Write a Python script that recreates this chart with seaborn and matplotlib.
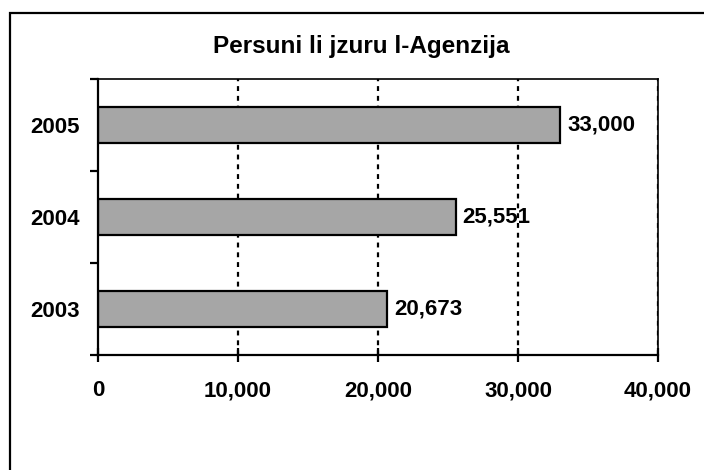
import pandas as pd
import matplotlib
matplotlib.use('Agg')
import matplotlib.pyplot as plt
import seaborn as sns
from matplotlib.patches import Rectangle
from matplotlib.ticker import FuncFormatter, FixedLocator

years = ['2005', '2004', '2003']
visitors = [33000, 25551, 20673]
x_ticks = [0, 10000, 20000, 30000, 40000]
title = 'Persuni li jzuru l-Agenzija'

sns.set_style('white')
plt.rcParams['font.family'] = ['Liberation Sans', 'DejaVu Sans']
plt.rcParams['font.weight'] = 'bold'
plt.rcParams['text.color'] = 'black'

df = pd.DataFrame({'year': years, 'visitors': visitors})

W, H = 704, 470
fig = plt.figure(figsize=(W / 100, H / 100), dpi=100)
ax = fig.add_axes([98 / W, 1 - 355 / H, (658 - 98) / W, (355 - 79) / H])

sns.barplot(data=df, x='visitors', y='year', order=years, orient='h',
            color='#a6a6a6', edgecolor='black', linewidth=1.6,
            width=0.39, saturation=1, ax=ax)

ax.set_xlim(0, 40000)
ax.set_ylim(2.5, -0.5)
ax.set_xticks(x_ticks)
ax.xaxis.set_major_formatter(FuncFormatter(lambda v, p: f'{v:,.0f}'))
ax.set_xlabel('')
ax.set_ylabel('')

# dotted gridlines
for v in x_ticks[1:]:
    ax.axvline(v, color='black', lw=1.6, ls=(0, (2.2, 2.2)), zorder=0)

for s in ['left', 'bottom']:
    ax.spines[s].set_linewidth(1.6)
for s in ['top', 'right']:
    ax.spines[s].set_linewidth(1.2)
for s in ax.spines.values():
    s.set_color('black')

ax.tick_params(axis='x', bottom=True, direction='inout', length=10, width=1.6,
               pad=13, labelsize=16, colors='black')
ax.tick_params(axis='y', which='major', left=True, length=0, pad=13,
               labelsize=16, colors='black')
ax.yaxis.set_minor_locator(FixedLocator([-0.5, 0.5, 1.5, 2.5]))
ax.tick_params(axis='y', which='minor', left=True, direction='out', length=6,
               width=1.6, color='black')

for c in ax.containers:
    ax.bar_label(c, labels=[f'{v:,.0f}' for v in visitors], padding=5,
                 fontsize=16, fontweight='bold', color='black')

fig.text(361 / W, 1 - 47 / H, title, ha='center', va='center',
         fontsize=17.5, fontweight='bold', color='black')

# outer chart border (cut by image edge)
fig.add_artist(Rectangle((10 / W, -0.2), 1.2, 1.2 - 13 / H,
                         transform=fig.transFigure, fill=False,
                         edgecolor='black', lw=1.6, clip_on=False))

fig.savefig('out.png', dpi=100)
